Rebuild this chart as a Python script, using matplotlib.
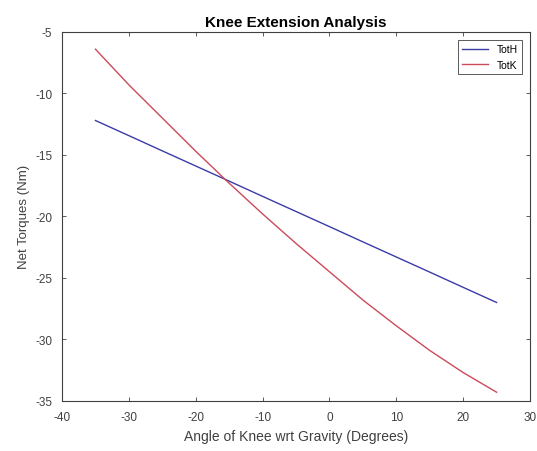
# Knee extension torque plot
import numpy as np
import matplotlib
matplotlib.use("Agg")
import matplotlib.pyplot as plt

plt.rcParams['font.family'] = ['Liberation Sans', 'DejaVu Sans']
plt.rcParams['axes.unicode_minus'] = False

angle = [-35, -30, -25, -20, -15, -10, -5, 0, 5, 10, 15, 20, 25]
totH = [-12.20, -13.43, -14.67, -15.90, -17.13, -18.37, -19.60,
        -20.83, -22.07, -23.30, -24.53, -25.77, -27.00]
totK = [-6.4, -9.3, -12.0, -14.7, -17.3, -19.8, -22.2,
        -24.5, -26.8, -28.9, -30.9, -32.7, -34.3]

xticks = [-40, -30, -20, -10, 0, 10, 20, 30]
yticks = [-35, -30, -25, -20, -15, -10, -5]

fig = plt.figure(figsize=(5.37, 4.52), dpi=100)
ax = fig.add_axes([0.1155, 0.111, 0.8715, 0.816])

ax.plot(angle, totH, color='#3b3ba8', lw=1.0, label='TotH')
ax.plot(angle, totK, color='#cc4a5a', lw=1.0, label='TotK')

ax.set_xlim(-40, 30)
ax.set_ylim(-35, -5)
ax.set_xticks(xticks)
ax.set_yticks(yticks)
ax.tick_params(direction='in', top=True, right=True, labelsize=8.5,
               colors='#404040', length=3, width=0.6, pad=7)
for s in ax.spines.values():
    s.set_color('#404040')
    s.set_linewidth(0.8)

ax.set_title('Knee Extension Analysis', fontsize=11, fontweight='bold', pad=4)
ax.set_xlabel('Angle of Knee wrt Gravity (Degrees)', fontsize=10, color='#404040', labelpad=5)
ax.set_ylabel('Net Torques (Nm)', fontsize=9.5, color='#404040', labelpad=4)

leg = ax.legend(loc='upper right', fontsize=7.5, fancybox=False, framealpha=1,
                edgecolor='#404040', handlelength=2.5, borderaxespad=0.8)
leg.get_frame().set_linewidth(0.6)

fig.savefig('out.png', dpi=100)
